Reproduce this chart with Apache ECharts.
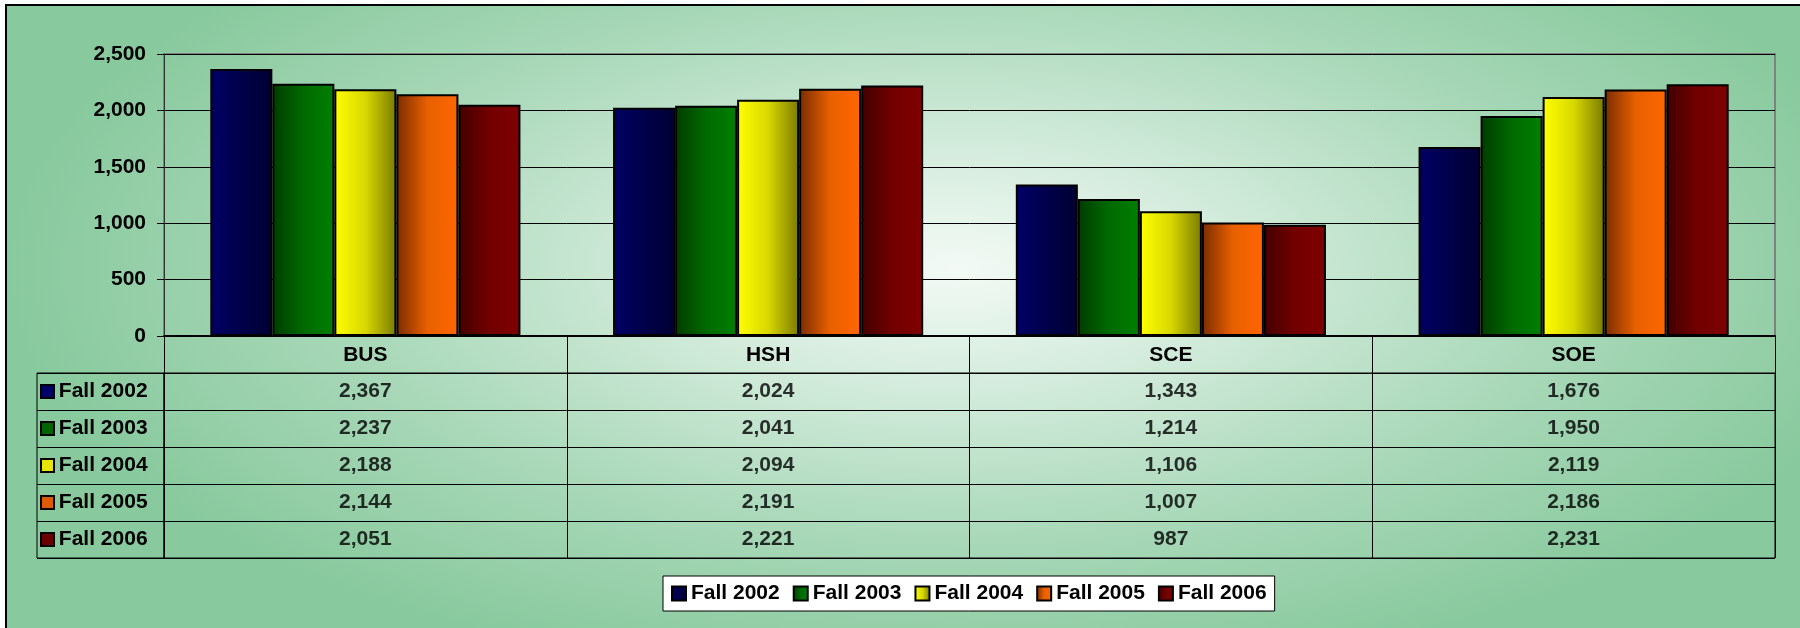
<!DOCTYPE html>
<html>
<head>
<meta charset="utf-8">
<title>Fall enrollment by school</title>
<script src="https://cdn.jsdelivr.net/npm/echarts@6/dist/echarts.min.js"></script>
<style>
  html, body { margin: 0; padding: 0; background: #fff; }
  #frame {
    position: absolute; left: 5px; top: 4px; width: 1800px; height: 630px;
    border-left: 2px solid #000; border-top: 2px solid #000;
    background: radial-gradient(ellipse 950px 420px at 948px 262px, #f3faf5 0%, #d2ebdb 30%, #a8d8b8 65%, #88c99d 100%);
  }
  #chart { position: absolute; left: 0; top: 0; width: 1800px; height: 628px; }
</style>
</head>
<body>
<div id="frame"></div>
<div id="chart"></div>
<script>
const categories = ["BUS", "HSH", "SCE", "SOE"];
const seriesNames = ["Fall 2002", "Fall 2003", "Fall 2004", "Fall 2005", "Fall 2006"];
const fall2002 = [2367, 2024, 1343, 1676];
const fall2003 = [2237, 2041, 1214, 1950];
const fall2004 = [2188, 2094, 1106, 2119];
const fall2005 = [2144, 2191, 1007, 2186];
const fall2006 = [2051, 2221, 987, 2231];
const yTicks = [0, 500, 1000, 1500, 2000, 2500];

const values = [fall2002, fall2003, fall2004, fall2005, fall2006];
const font = "'Liberation Sans', Arial, sans-serif";
const bold = { fontSize: 21, fontWeight: "bold", fontFamily: font, color: "#000" };

// left -> right shading of each bar colour
const shades = [
  ["#000066", "#00004a", "#000033"],
  ["#003c00", "#006a00", "#008000"],
  ["#ffff00", "#d8d800", "#7a7a00"],
  ["#7a2c00", "#e86000", "#ff6600"],
  ["#420000", "#720000", "#800000"],
];
const flat = ["#000066", "#006400", "#e6e600", "#e05a00", "#6a0000"];

const grad = (c) => new echarts.graphic.LinearGradient(0, 0, 1, 0, [
  { offset: 0, color: c[0] },
  { offset: 0.5, color: c[1] },
  { offset: 1, color: c[2] },
]);
const fmt = (v) => Number(v).toLocaleString("en-US");

const rich = { t: bold };
flat.forEach((c, i) => {
  rich["b" + i] = { width: 11, height: 11, backgroundColor: c, borderColor: "#000", borderWidth: 2 };
});

const cells = [];
values.forEach((row, s) => {
  row.forEach((v, c) => cells.push([c, s, v]));
});

const myChart = echarts.init(document.getElementById("chart"));
myChart.setOption({
  backgroundColor: "transparent",
  animation: false,
  textStyle: { fontFamily: font },
  legend: {
    data: seriesNames,
    left: 663,
    top: 576,
    padding: [7, 8, 7, 8],
    itemGap: 13,
    itemWidth: 14,
    itemHeight: 14,
    backgroundColor: "#fff",
    borderColor: "#000",
    borderWidth: 1,
    borderRadius: 0,
    icon: "rect",
    textStyle: bold,
  },
  grid: [
    { left: 164, right: 25, top: 54, height: 282, show: true, borderColor: "#808080", borderWidth: 2 },
    { left: 164, right: 25, top: 373, height: 185, show: true, borderColor: "#000", borderWidth: 1 },
    { left: 37, width: 127, top: 373, height: 185, show: true, borderColor: "#000", borderWidth: 1 },
  ],
  xAxis: [
    {
      type: "category",
      gridIndex: 0,
      data: categories,
      axisLine: { lineStyle: { color: "#000", width: 2 } },
      axisTick: { show: true, interval: 0, length: 37, lineStyle: { color: "#000" } },
      axisLabel: { interval: 0, margin: 19, verticalAlign: "middle", ...bold },
    },
    {
      type: "category",
      gridIndex: 1,
      data: categories,
      axisLine: { show: false },
      axisTick: { show: false },
      axisLabel: { show: false },
      splitLine: { show: true, interval: 0, lineStyle: { color: "#000", width: 1 } },
    },
    { type: "value", gridIndex: 2, show: false },
  ],
  yAxis: [
    {
      type: "value",
      gridIndex: 0,
      min: yTicks[0],
      max: yTicks[yTicks.length - 1],
      interval: yTicks[1] - yTicks[0],
      axisLine: { show: true, lineStyle: { color: "#333", width: 1 } },
      axisTick: { show: true, length: 7, lineStyle: { color: "#000" } },
      axisLabel: { margin: 18, formatter: fmt, ...bold },
      splitLine: { lineStyle: { color: "#000", width: 1 } },
    },
    {
      type: "category",
      gridIndex: 1,
      inverse: true,
      data: seriesNames,
      axisLine: { show: true, lineStyle: { color: "#000" } },
      axisTick: { show: true, interval: 0, length: 127, lineStyle: { color: "#000" } },
      axisLabel: {
        interval: 0, align: "left", margin: 122,
        formatter: (v, i) => "{b" + i + "|}{t| " + v + "}",
        rich: rich,
      },
      splitLine: { show: true, interval: 0, lineStyle: { color: "#000" } },
    },
    { type: "value", gridIndex: 2, show: false },
  ],
  series: [
    ...seriesNames.map((name, i) => ({
      name: name,
      type: "bar",
      xAxisIndex: 0,
      yAxisIndex: 0,
      data: values[i],
      barGap: "0%",
      barCategoryGap: "23%",
      itemStyle: { color: grad(shades[i]), borderColor: "#000", borderWidth: 2 },
    })),
    {
      name: "table",
      type: "scatter",
      xAxisIndex: 1,
      yAxisIndex: 1,
      data: cells,
      symbolSize: 1,
      silent: true,
      itemStyle: { color: "transparent" },
      label: {
        show: true,
        position: "inside",
        formatter: (p) => fmt(p.value[2]),
        ...bold,
      },
    },
  ],
});
</script>
</body>
</html>
